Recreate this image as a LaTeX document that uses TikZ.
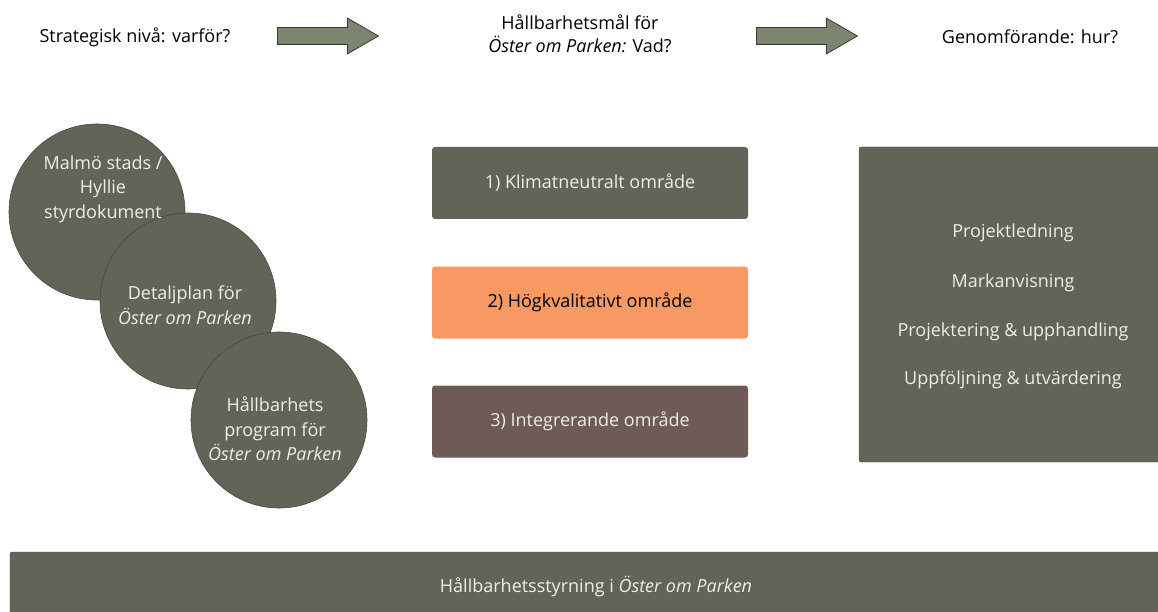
\documentclass[tikz,border=0pt]{standalone}
\usepackage{fontspec}
\setmainfont{Open Sans}
\usetikzlibrary{shapes.arrows}
\definecolor{olive}{RGB}{98,100,88}
\definecolor{oliveedge}{RGB}{70,72,62}
\definecolor{brownbox}{RGB}{110,90,86}
\definecolor{orangebox}{RGB}{248,152,98}
\definecolor{arrowfill}{RGB}{125,133,112}
\definecolor{arrowedge}{RGB}{55,58,50}
\definecolor{lighttext}{RGB}{238,238,232}
\tikzset{
  head/.style={font=\fontsize{18}{23}\selectfont, text=black, align=center},
  bigarrow/.style={single arrow, fill=arrowfill, draw=arrowedge, line width=0.8pt,
     minimum height=101pt, inner xsep=0pt, inner ysep=8pt, single arrow head extend=9.5pt,
     single arrow tip angle=60, anchor=tail},
  disc/.style={circle, fill=olive, draw=oliveedge, line width=0.6pt, minimum size=176pt, inner sep=0pt},
  disctext/.style={font=\fontsize{18}{24.5}\selectfont, text=lighttext, align=center},
  goalbox/.style={rounded corners=3pt, minimum width=316pt, minimum height=72pt, inner sep=0pt,
     font=\fontsize{18}{20}\selectfont},
  bigbox/.style={fill=olive, draw=oliveedge, line width=0.4pt},
  list/.style={font=\fontsize{18}{20}\selectfont, text=lighttext}
}
\begin{document}
\begin{tikzpicture}[x=1pt,y=-1pt]
\useasboundingbox (0,0) rectangle (1158,612);
% headings
\node[head] (h1) at (135,37) {Strategisk nivå: varför?};
\node[head] (h2) at (580,34) {Hållbarhetsmål för\\\textit{Öster om Parken:} Vad?};
\node[head] (h3) at (1030,37) {Genomförande: hur?};
\node[bigarrow] (a1) at (277,36) {};
\node[bigarrow] (a2) at (756,36) {};
% discs
\node[disc] (c1) at (97,212) {};
\node[disc] (c2) at (188,301) {};
\node[disc] (c3) at (279,420) {};
\node[disctext] (t1) at (103,189) {Malmö stads /\\Hyllie\\styrdokument};
\node[disctext] (t2) at (185,305) {Detaljplan för\\\textit{Öster om Parken}};
\node[disctext] (t3) at (275,429) {Hållbarhets\\program för\\\textit{Öster om Parken}};
% goal boxes
\node[goalbox, fill=olive, text=lighttext] (g1) at (590,183) {1) Klimatneutralt område};
\node[goalbox, fill=orangebox, text=black] (g2) at (590,302.5) {2) Högkvalitativt område};
\node[goalbox, fill=brownbox, text=lighttext] (g3) at (590,421.5) {3) Integrerande område};
% right box
\path[bigbox, rounded corners=2pt] (859,147) rectangle (1166,462);
\node[list] (l1) at (1013,233) {Projektledning};
\node[list] (l2) at (1013,283) {Markanvisning};
\node[list] (l3) at (1013,332) {Projektering \& upphandling};
\node[list] (l4) at (1013,380) {Uppföljning \& utvärdering};
% bottom bar
\path[bigbox, rounded corners=2pt] (10,552) rectangle (1166,620);
\node[list] (b1) at (596,586) {Hållbarhetsstyrning i \textit{Öster om Parken}};
\end{tikzpicture}
\end{document}
